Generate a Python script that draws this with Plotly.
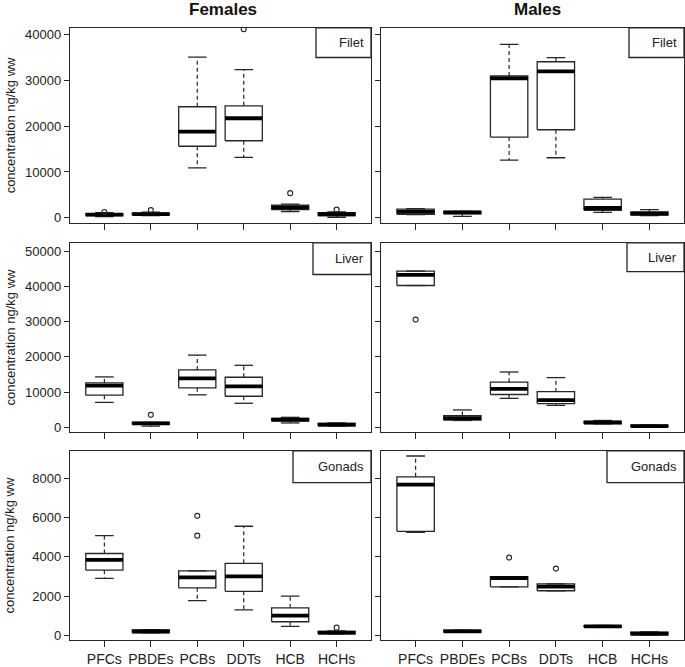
import plotly.graph_objects as go

W, H = 685, 667

categories = ["PFCs", "PBDEs", "PCBs", "DDTs", "HCB", "HCHs"]

# stats per category: [lower whisker, Q1, median, Q3, upper whisker]
females_filet = [[300, 500, 700, 950, 1150], [500, 650, 850, 1050, 1250],
                 [10900, 15600, 18800, 24200, 35000], [13200, 16800, 21700, 24400, 32300],
                 [1400, 1800, 2300, 2800, 3000], [150, 500, 800, 1150, 1300]]
females_filet_out = [[1300], [1700], [], [41100], [5400], [1800]]

males_filet = [[700, 800, 1300, 1900, 2000], [360, 900, 1200, 1400, 1400],
               [12600, 17600, 30400, 30900, 37800], [13100, 19200, 31900, 34000, 34900],
               [1220, 1650, 2160, 4100, 4460], [500, 600, 950, 1300, 1800]]
males_filet_out = [[], [], [], [], [], []]

females_liver = [[7050, 9100, 11800, 12600, 14300], [300, 800, 1100, 1350, 1350],
                 [9200, 11200, 13900, 16300, 20500], [6800, 8800, 11600, 14200, 17600],
                 [1200, 1700, 2150, 2500, 2800], [300, 400, 700, 1100, 1200]]
females_liver_out = [[], [3500], [], [], [], []]

males_liver = [[40300, 40300, 43300, 44400, 44400], [1900, 2000, 2600, 3300, 4900],
               [8200, 9300, 10900, 12800, 15700], [6200, 6700, 7700, 10100, 14100],
               [920, 950, 1350, 1660, 1900], [100, 150, 300, 550, 600]]
males_liver_out = [[30600], [], [], [], [], []]

females_gonads = [[2900, 3320, 3850, 4170, 5080], [120, 130, 200, 280, 290],
                  [1770, 2420, 2950, 3280, 3280], [1300, 2240, 3000, 3670, 5560],
                  [450, 690, 1000, 1400, 2000], [70, 80, 140, 200, 230]]
females_gonads_out = [[], [], [6090, 5080], [], [], [390]]

males_gonads = [[5250, 5300, 7680, 8080, 9140], [150, 160, 200, 260, 260],
                [2470, 2470, 2920, 2990, 2990], [2270, 2270, 2480, 2620, 2620],
                [400, 410, 450, 490, 500], [20, 30, 80, 160, 170]]
males_gonads_out = [[], [], [3960], [3400], [], []]

panels = [
    (females_filet, females_filet_out, 0, 0, [-1100, 41400], [0, 10000, 20000, 30000, 40000], "Filet"),
    (males_filet, males_filet_out, 0, 1, [-1100, 41400], [0, 10000, 20000, 30000, 40000], "Filet"),
    (females_liver, females_liver_out, 1, 0, [-1400, 52450], [0, 10000, 20000, 30000, 40000, 50000], "Liver"),
    (males_liver, males_liver_out, 1, 1, [-1400, 52450], [0, 10000, 20000, 30000, 40000, 50000], "Liver"),
    (females_gonads, females_gonads_out, 2, 0, [-250, 9400], [0, 2000, 4000, 6000, 8000], "Gonads"),
    (males_gonads, males_gonads_out, 2, 1, [-250, 9400], [0, 2000, 4000, 6000, 8000], "Gonads"),
]

col_px = [(70, 371), (381, 684)]
row_px = [(27, 224), (244, 435), (454, 645)]
strip_px = {(0, 0): (316, 57), (0, 1): (629, 57), (1, 0): (313, 276), (1, 1): (627, 273),
            (2, 0): (293, 486), (2, 1): (607, 486)}

def px(x):
    return x / W

def py(y):
    return 1 - y / H

INK = "#262626"
FONT = "Liberation Sans, Arial"
fig = go.Figure()
layout = {}
shapes = []
annotations = []

for i, (stats, outs, r, c, yr, yt, label) in enumerate(panels):
    n = i + 1
    xa = "x" if n == 1 else f"x{n}"
    ya = "y" if n == 1 else f"y{n}"
    bx, by, mx, my, wx, wy, cx, cy, ox, oy = [], [], [], [], [], [], [], [], [], []
    hw, cw = 0.4, 0.2
    for k, (lo, q1, md, q3, up) in enumerate(stats):
        xc = k + 1
        bx += [xc - hw, xc + hw, xc + hw, xc - hw, xc - hw, None]
        by += [q1, q1, q3, q3, q1, None]
        mx += [xc - hw, xc + hw, None]
        my += [md, md, None]
        wx += [xc, xc, None, xc, xc, None]
        wy += [q3, up, None, q1, lo, None]
        cx += [xc - cw, xc + cw, None, xc - cw, xc + cw, None]
        cy += [up, up, None, lo, lo, None]
        for o in outs[k]:
            ox.append(xc)
            oy.append(o)
    common = dict(xaxis=xa, yaxis=ya, showlegend=False, hoverinfo="skip")
    fig.add_trace(go.Scatter(x=wx, y=wy, mode="lines", line=dict(color=INK, width=1.2, dash="4px,3px"), **common))
    fig.add_trace(go.Scatter(x=cx, y=cy, mode="lines", line=dict(color=INK, width=1.3), **common))
    fig.add_trace(go.Scatter(x=bx, y=by, mode="lines", line=dict(color=INK, width=1.3), **common))
    fig.add_trace(go.Scatter(x=mx, y=my, mode="lines", line=dict(color="#000", width=3.8), **common))
    fig.add_trace(go.Scatter(x=ox, y=oy, mode="markers",
                             marker=dict(symbol="circle-open", size=5, color=INK, line=dict(width=1.1)), **common))

    x0, x1 = col_px[c]
    y0, y1 = row_px[r]
    key = "" if n == 1 else str(n)
    layout[f"xaxis{key}"] = dict(
        domain=[px(x0), px(x1)], range=[0.26, 6.74], anchor=ya,
        tickvals=[1, 2, 3, 4, 5, 6], ticktext=categories, showticklabels=(r == 2),
        ticks="outside", ticklen=6, tickwidth=1.2, tickcolor=INK,
        showline=True, mirror=True, linecolor=INK, linewidth=1.4,
        showgrid=False, zeroline=False,
        tickfont=dict(family=FONT, size=14, color="#222"),
    )
    layout[f"yaxis{key}"] = dict(
        domain=[py(y1), py(y0)], range=yr, anchor=xa,
        tickvals=yt, ticktext=[str(v) for v in yt], showticklabels=(c == 0),
        ticks="outside", ticklen=5, tickwidth=1.2, tickcolor=INK,
        showline=True, mirror=True, linecolor=INK, linewidth=1.4,
        showgrid=False, zeroline=False,
        tickfont=dict(family=FONT, size=13, color="#222"),
    )
    sx, sy = strip_px[(r, c)]
    shapes.append(dict(type="rect", xref="paper", yref="paper",
                       x0=px(sx), x1=px(x1), y0=py(sy), y1=py(y0),
                       line=dict(color=INK, width=1.3), fillcolor="white", layer="above"))
    annotations.append(dict(text=label, xref="paper", yref="paper", x=px(x1 - 5), y=py((sy + y0) / 2),
                            xanchor="right", yanchor="middle", showarrow=False,
                            font=dict(family=FONT, size=13, color="#222")))
    if c == 0:
        annotations.append(dict(text="concentration ng/kg ww", xref="paper", yref="paper",
                                x=px(10), y=py((y0 + y1) / 2), textangle=-90,
                                xanchor="center", yanchor="middle", showarrow=False,
                                font=dict(family=FONT, size=13, color="#222")))

annotations.append(dict(text="<b>Females</b>", xref="paper", yref="paper", x=px(223), y=py(9),
                        xanchor="center", yanchor="middle", showarrow=False,
                        font=dict(family=FONT, size=17, color="#111")))
annotations.append(dict(text="<b>Males</b>", xref="paper", yref="paper", x=px(537), y=py(9),
                        xanchor="center", yanchor="middle", showarrow=False,
                        font=dict(family=FONT, size=17, color="#111")))

fig.update_layout(width=W, height=H, margin=dict(l=0, r=0, t=0, b=0),
                  paper_bgcolor="white", plot_bgcolor="white",
                  shapes=shapes, annotations=annotations, **layout)

fig.write_html("out.html", config={"displayModeBar": False},
               post_script="document.body.style.margin='0';document.body.style.overflow='hidden';")
